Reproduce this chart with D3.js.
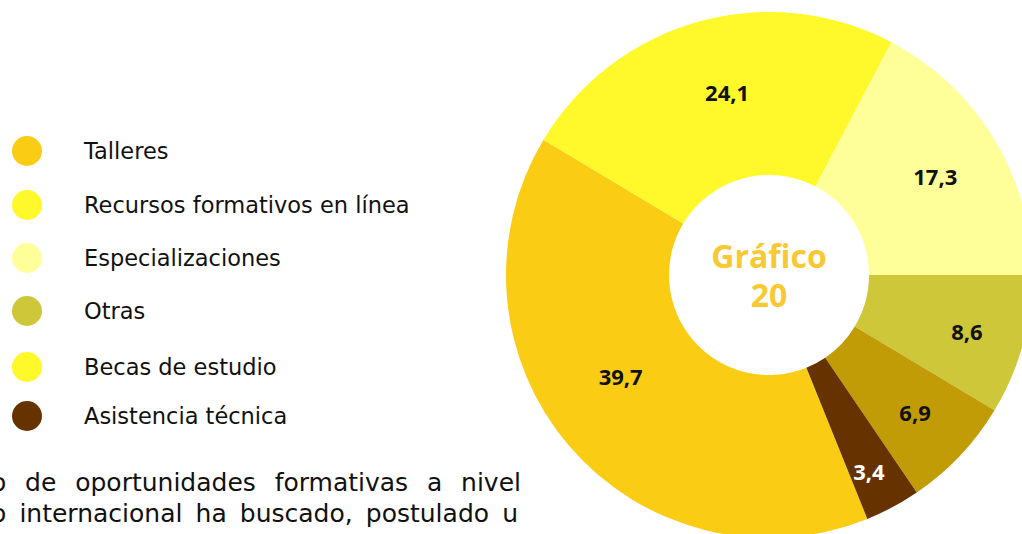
<!DOCTYPE html>
<html>
<head>
<meta charset="utf-8">
<script src="https://cdn.jsdelivr.net/npm/d3@7"></script>
<style>
  html, body { margin: 0; padding: 0; background: #ffffff; overflow: hidden; }
  svg { display: block; }
</style>
</head>
<body>
<svg id="chart" width="1022" height="534"></svg>
<script>
// ---- data ----
const categories = ["Talleres", "Recursos formativos en línea", "Especializaciones", "Otras", "Becas de estudio", "Asistencia técnica"];
const values = [39.7, 24.1, 17.3, 8.6, 6.9, 3.4];
const valueLabels = ["39,7", "24,1", "17,3", "8,6", "6,9", "3,4"];
const centerTitle = ["Gráfico", "20"];
const paragraphLines = [
  ["o", "de", "oportunidades", "formativas", "a", "nivel"],
  ["o", "internacional", "ha", "buscado,", "postulado", "u"]
];

// ---- styles / layout ----
const sliceColors = ["#FBCC14", "#FFF92B", "#FFFF99", "#CEC73A", "#C19C06", "#663300"];
const legendColors = ["#FBCC14", "#FFF92B", "#FFFF99", "#CEC73A", "#FFF92B", "#663300"];
const labelColors = ["#111", "#111", "#111", "#111", "#111", "#ffffff"];
const labelRadii = [180, 187, 193, 206, 201, 221];
const labelAngleOffsets = [6, 2.7, 0.6, 0.6, 0, 1.2];
const legendY = [151, 205, 258, 311, 367, 416];

const svg = d3.select("#chart");
const cx = 769, cy = 275, rOuter = 263, rInner = 100;
const deg = Math.PI / 180;
const total = d3.sum(values);
// Especializaciones/Otras boundary sits at 90° (horizontal to the right)
const startAngle = Math.PI / 2 - 2 * Math.PI * d3.sum(values.slice(0, 3)) / total;

const pie = d3.pie().sort(null).value(d => d).startAngle(startAngle).endAngle(startAngle + 2 * Math.PI);
const arcs = pie(values);
const arc = d3.arc().innerRadius(rInner).outerRadius(rOuter);

const g = svg.append("g").attr("transform", `translate(${cx},${cy})`);
g.selectAll("path.slice").data(arcs).join("path")
  .attr("class", "slice")
  .attr("d", arc)
  .attr("fill", (d, i) => sliceColors[i]);

g.selectAll("text.val").data(arcs).join("text")
  .attr("class", "val")
  .attr("transform", (d, i) => {
    const a = (d.startAngle + d.endAngle) / 2 + labelAngleOffsets[i] * deg;
    const r = labelRadii[i];
    return `translate(${r * Math.sin(a)},${-r * Math.cos(a)})`;
  })
  .attr("text-anchor", "middle")
  .attr("dy", "0.36em")
  .attr("font-family", "'Open Sans', sans-serif")
  .attr("font-weight", 700)
  .attr("font-size", 22)
  .attr("fill", (d, i) => labelColors[i])
  .text((d, i) => valueLabels[i]);

// center title
g.selectAll("text.title").data(centerTitle).join("text")
  .attr("class", "title")
  .attr("x", 0)
  .attr("y", (d, i) => -7 + i * 39)
  .attr("text-anchor", "middle")
  .attr("font-family", "'Open Sans', sans-serif")
  .attr("font-weight", 700)
  .attr("font-size", 32)
  .attr("fill", "#F9C933")
  .text(d => d);

// legend
const legend = svg.append("g");
const items = legend.selectAll("g.item").data(categories).join("g")
  .attr("class", "item")
  .attr("transform", (d, i) => `translate(0,${legendY[i]})`);
items.append("circle").attr("cx", 27).attr("cy", 0).attr("r", 15)
  .attr("fill", (d, i) => legendColors[i]);
items.append("text").attr("x", 84).attr("y", 8)
  .attr("font-family", "'DejaVu Sans', sans-serif")
  .attr("font-size", 22.5)
  .attr("fill", "#111")
  .text(d => d);

// paragraph (justified lines, clipped at left edge)
const paraBaselines = [491, 522];
const paraLeft = [-9, -9];
const paraRight = [521, 518];
paragraphLines.forEach((words, li) => {
  const line = svg.append("g");
  const texts = line.selectAll("text").data(words).join("text")
    .attr("y", paraBaselines[li])
    .attr("font-family", "'DejaVu Sans', sans-serif")
    .attr("font-size", 25)
    .attr("fill", "#111")
    .text(d => d);
  const widths = texts.nodes().map(n => n.getComputedTextLength());
  const gap = (paraRight[li] - paraLeft[li] - d3.sum(widths)) / (words.length - 1);
  let x = paraLeft[li];
  texts.attr("x", (d, i) => { const xi = x; x += widths[i] + gap; return xi; });
});
</script>
</body>
</html>
